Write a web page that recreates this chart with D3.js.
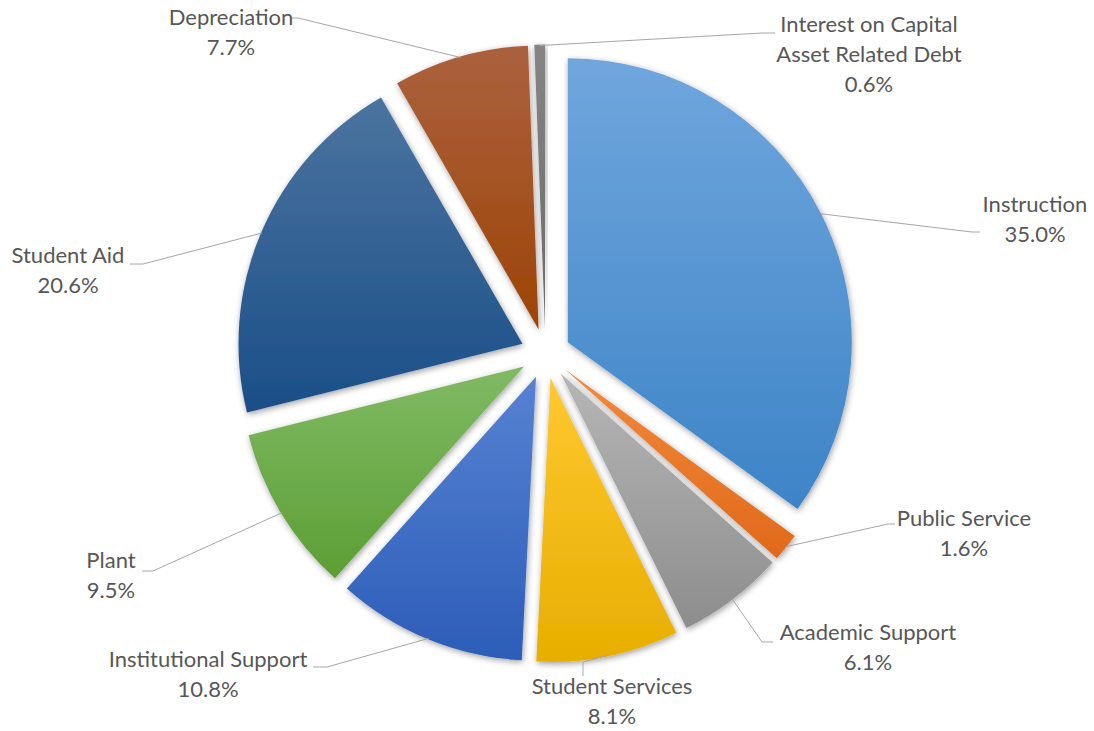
<!DOCTYPE html>
<html>
<head>
<meta charset="utf-8">
<script src="https://cdn.jsdelivr.net/npm/d3@7"></script>
<style>
  html, body { margin: 0; padding: 0; background: #ffffff; }
  svg { display: block; }
  text { font-family: Lato, "Open Sans", sans-serif; fill: #575757; }
</style>
</head>
<body>
<svg id="chart" width="1094" height="731"></svg>
<script>
// Expense categories, clockwise from 12 o'clock
const categories = [
  "Instruction",
  "Public Service",
  "Academic Support",
  "Student Services",
  "Institutional Support",
  "Plant",
  "Student Aid",
  "Depreciation",
  "Interest on Capital Asset Related Debt"
];
// Share of total expenses (%)
const shares = [35.0, 1.6, 6.1, 8.1, 10.8, 9.5, 20.6, 7.7, 0.6];
// Label lines shown beside each slice
const labelLines = [
  ["Instruction"],
  ["Public Service"],
  ["Academic Support"],
  ["Student Services"],
  ["Institutional Support"],
  ["Plant"],
  ["Student Aid"],
  ["Depreciation"],
  ["Interest on Capital", "Asset Related Debt"]
];
// Slice fill: [top, bottom] gradient stops
const sliceColors = [
  ["#70a6dd", "#3d84c7"],
  ["#f28a3c", "#e0691a"],
  ["#b6b6b6", "#8d8d8d"],
  ["#ffc830", "#e7ae00"],
  ["#5782d2", "#2c5db8"],
  ["#80ba64", "#5c9e34"],
  ["#4b74a0", "#1a4e87"],
  ["#ab613e", "#9d4407"],
  ["#858585", "#6a6a6a"]
];

// ---- layout ----
const cx = 545.5, cy = 353.5;
const radius = 284;
const explode = 25;

// label block centre x, first baseline y, elbow point, end of the short horizontal tick
const labelLayout = [
  { x: 1035, y: 212, elbow: [972, 232], tick: [980, 232] },
  { x: 964,  y: 526, elbow: [888, 524], tick: [895, 524] },
  { x: 868,  y: 640, elbow: [762, 642], tick: [773, 642] },
  { x: 612,  y: 694, elbow: [583, 662], tick: [583, 676] },
  { x: 208,  y: 667, elbow: [327, 667], tick: [313, 667] },
  { x: 111,  y: 568, elbow: [153, 571], tick: [142, 571] },
  { x: 68,   y: 263, elbow: [143, 264], tick: [130, 264] },
  { x: 231,  y: 25,  elbow: [298, 18],  tick: [292, 18] },
  { x: 869,  y: 32,  elbow: [762, 33],  tick: [775, 33] }
];

const svg = d3.select("#chart");
const defs = svg.append("defs");

// soft drop shadow under slices
const shadow = defs.append("filter")
  .attr("id", "sliceShadow")
  .attr("x", "-20%").attr("y", "-20%")
  .attr("width", "140%").attr("height", "140%");
shadow.append("feDropShadow")
  .attr("dx", 1).attr("dy", 2)
  .attr("stdDeviation", 3)
  .attr("flood-color", "#000")
  .attr("flood-opacity", 0.38);

sliceColors.forEach((c, i) => {
  const g = defs.append("linearGradient")
    .attr("id", "grad" + i)
    .attr("x1", 0).attr("y1", 0).attr("x2", 0).attr("y2", 1);
  g.append("stop").attr("offset", "0%").attr("stop-color", c[0]);
  g.append("stop").attr("offset", "100%").attr("stop-color", c[1]);
});

const data = categories.map((name, i) => ({ name, value: shares[i], i }));

const pie = d3.pie()
  .sort(null)
  .value(d => d.value)
  .startAngle(0)
  .endAngle(2 * Math.PI);

const arc = d3.arc().innerRadius(0).outerRadius(radius);
const arcs = pie(data);

const mid = a => (a.startAngle + a.endAngle) / 2;
const offsetOf = a => {
  const m = mid(a);
  return [explode * Math.sin(m), -explode * Math.cos(m)];
};

const sliceG = svg.append("g")
  .attr("transform", `translate(${cx},${cy})`);

sliceG.selectAll("path.slice")
  .data(arcs)
  .join("path")
  .attr("class", "slice")
  .attr("transform", d => {
    const o = offsetOf(d);
    return `translate(${o[0]},${o[1]})`;
  })
  .attr("d", arc)
  .attr("fill", d => `url(#grad${d.data.i})`)
  .attr("filter", "url(#sliceShadow)");

// leader lines from the outer edge of each slice
const leaderG = svg.append("g");
arcs.forEach(a => {
  const i = a.data.i;
  const o = offsetOf(a);
  const m = mid(a);
  const sx = cx + o[0] + (radius - 1) * Math.sin(m);
  const sy = cy + o[1] - (radius - 1) * Math.cos(m);
  const L = labelLayout[i];
  leaderG.append("polyline")
    .attr("points", [[sx, sy], L.elbow, L.tick].map(p => p.join(",")).join(" "))
    .attr("fill", "none")
    .attr("stroke", "#a6a6a6")
    .attr("stroke-width", 1);
});

// category and percentage labels
const fmt = d3.format(".1f");
const labelG = svg.append("g");
arcs.forEach(a => {
  const i = a.data.i;
  const L = labelLayout[i];
  const lines = labelLines[i].concat([fmt(a.data.value) + "%"]);
  const t = labelG.append("text")
    .attr("x", L.x)
    .attr("y", L.y)
    .attr("text-anchor", "middle")
    .style("font-size", "22px");
  lines.forEach((s, k) => {
    t.append("tspan")
      .attr("x", L.x)
      .attr("dy", k === 0 ? 0 : 30)
      .text(s);
  });
});
</script>
</body>
</html>
